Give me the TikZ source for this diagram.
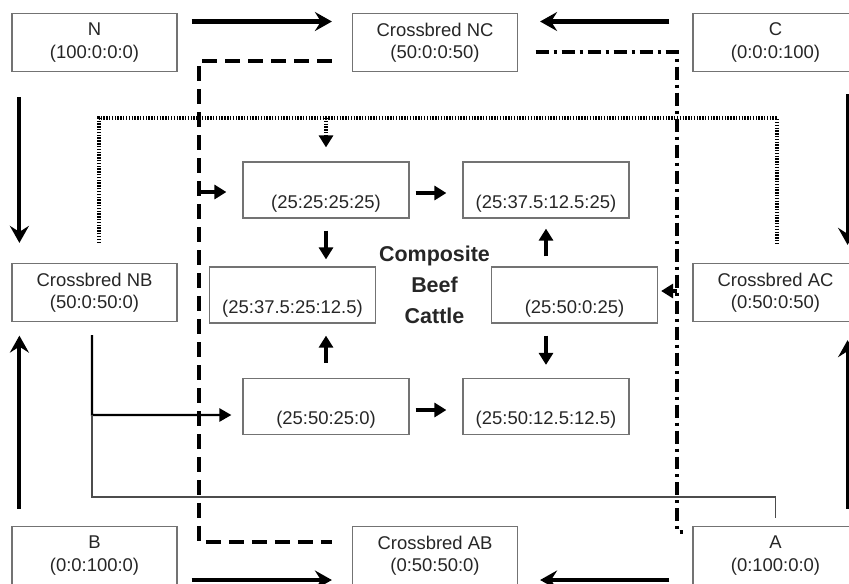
\documentclass[tikz,border=0pt]{standalone}
\usepackage{fontspec}
\setmainfont{Liberation Sans}
\usetikzlibrary{arrows.meta}
\tikzstyle{parent} = [rectangle, draw=black!55, line width=0.7pt, minimum width=3.3cm, minimum height=1.16cm, align=center, text=black!85, font=\fontsize{10.5}{12.6}\selectfont]
\tikzstyle{mix} = [rectangle, draw=black!55, line width=0.7pt, minimum width=3.32cm, minimum height=1.12cm, inner sep=0pt, text height=0.82cm, text depth=0.1cm, text=black!85, font=\fontsize{10.5}{12.6}\selectfont]
\tikzstyle{title} = [align=center, text=black!85, font=\fontsize{12.2}{17.6}\selectfont\bfseries]
\tikzstyle{arrow} = [line width=2.3pt, -{Stealth[length=3.4mm,width=3.8mm,inset=1.2mm]}]
\tikzstyle{shortarrow} = [line width=2.2pt, -{Triangle[length=2.4mm,width=2.8mm]}]
\tikzstyle{midarrow} = [line width=1.4pt, -{Triangle[length=2.4mm,width=2.6mm]}]
\tikzstyle{thinline} = [line width=0.7pt, black!70]
\tikzstyle{dashline} = [line width=2.1pt, dash pattern=on 0.3cm off 0.16cm]
\tikzstyle{dotline} = [line width=2pt, dash pattern=on 0.8pt off 0.8pt]
\tikzstyle{dashdotline} = [line width=1.9pt, dash pattern=on 0.26cm off 0.1cm on 0.06cm off 0.1cm]

\begin{document}
\begin{tikzpicture}[x=0.02cm,y=-0.02cm]
\useasboundingbox (0,0) rectangle (849,583);
% breeds and first crosses
\node[parent] (N) at (94.5,42.5) {N\\(100:0:0:0)};
\node[parent] (NC) at (435,42.5) {Crossbred NC\\(50:0:0:50)};
\node[parent] (C) at (775.5,42.5) {C\\(0:0:0:100)};
\node[parent] (NB) at (94.5,292.5) {Crossbred NB\\(50:0:50:0)};
\node[parent] (AC) at (775.5,292.5) {Crossbred AC\\(0:50:0:50)};
\node[parent] (B) at (94.5,555.5) {B\\(0:0:100:0)};
\node[parent] (AB) at (435,555.5) {Crossbred AB\\(0:50:50:0)};
\node[parent] (A) at (775.5,555.5) {A\\(0:100:0:0)};
% composites
\node[mix] (m1) at (326,190) {(25:25:25:25)};
\node[mix] (m2) at (546,190) {(25:37.5:12.5:25)};
\node[mix] (m3) at (292.5,295) {(25:37.5:25:12.5)};
\node[mix] (m4) at (574.5,295) {(25:50:0:25)};
\node[mix] (m5) at (326,406.5) {(25:50:25:0)};
\node[mix] (m6) at (546,406.5) {(25:50:12.5:12.5)};
\node[title] (cbc) at (434.5,285) {Composite\\Beef\\Cattle};

\draw[arrow,shorten <=.28cm,shorten >=.4cm] ([yshift=.42cm]N.east)--([yshift=.42cm]NC.west);
\draw[arrow,shorten <=.46cm,shorten >=.44cm] ([yshift=.42cm]C.west)--([yshift=.42cm]NC.east);
\draw[arrow,shorten <=.5cm,shorten >=.4cm] ([xshift=.16cm]N.south west)--([xshift=.16cm]NB.north west);
\draw[arrow,shorten <=.44cm,shorten >=.36cm] ([xshift=-.22cm]C.south east)--([xshift=-.22cm]AC.north east);
\draw[arrow,shorten <=.34cm,shorten >=.27cm] ([xshift=.16cm]B.north west)--([xshift=.16cm]NB.south west);
\draw[arrow,shorten <=.34cm,shorten >=.36cm] ([xshift=-.22cm]A.north east)--([xshift=-.22cm]AC.south east);
\draw[arrow,shorten <=.28cm,shorten >=.4cm] ([yshift=-.49cm]B.east)--([yshift=-.49cm]AB.west);
\draw[arrow,shorten <=.46cm,shorten >=.44cm] ([yshift=-.49cm]A.west)--([yshift=-.49cm]AB.east);

\draw[shortarrow,shorten <=.12cm,shorten >=.32cm] ([yshift=-.06cm]m1.east)--([yshift=-.06cm]m2.west);
\draw[shortarrow,shorten <=.12cm,shorten >=.32cm] ([yshift=-.07cm]m5.east)--([yshift=-.07cm]m6.west);
\draw[shortarrow,shorten <=.24cm,shorten >=.14cm] (m1.south)--(m1.south |- m3.north);
\draw[shortarrow,shorten <=.2cm,shorten >=.2cm] (m2.south |- m4.north)--(m2.south);
\draw[shortarrow,shorten <=.24cm,shorten >=.26cm] (m6.north |- m4.south)--(m6.north);
\draw[shortarrow,shorten <=.3cm,shorten >=.24cm] (m5.north)--(m5.north |- m3.south);

% dotted: NB and AC
\coordinate (dtop) at (435,118);
\draw[dotline] ([xshift=.09cm,yshift=.4cm]NB.north) |- (dtop) -| ([xshift=.03cm,yshift=.4cm]AC.north);
\draw[dotline,-{Triangle[length=2.4mm,width=2.8mm]},shorten >=.28cm] (dtop -| m1.north)--(m1.north);
% dashed: NC and AB
\coordinate (dsx) at (199,300);
\draw[dashline] ([xshift=-.4cm,yshift=-.37cm]NC.west) -| (dsx) |- ([xshift=-.4cm,yshift=.27cm]AB.west);
\draw[shortarrow,shorten >=.32cm] ([yshift=-.04cm]dsx |- m1.west)--([yshift=-.04cm]m1.west);
% dash-dot: NC and A
\coordinate (ddx) at (677,300);
\draw[dashdotline] ([xshift=.35cm,yshift=-.19cm]NC.east) -| (ddx) |- ([xshift=-.18cm,yshift=-.12cm]A.north west);
\draw[shortarrow,shorten >=.06cm] ([yshift=.08cm]ddx |- m4.east)--([yshift=.08cm]m4.east);
% solid: NB and A
\coordinate (fork) at (92,415);
\coordinate (low) at (435,497);
\draw[midarrow,shorten >=.22cm] ([xshift=-.05cm,yshift=-.26cm]NB.south)--(fork)--(fork -| m5.west);
\draw[thinline] ([yshift=.16cm]A.north) |- (low) -| (fork);
\end{tikzpicture}
\end{document}
